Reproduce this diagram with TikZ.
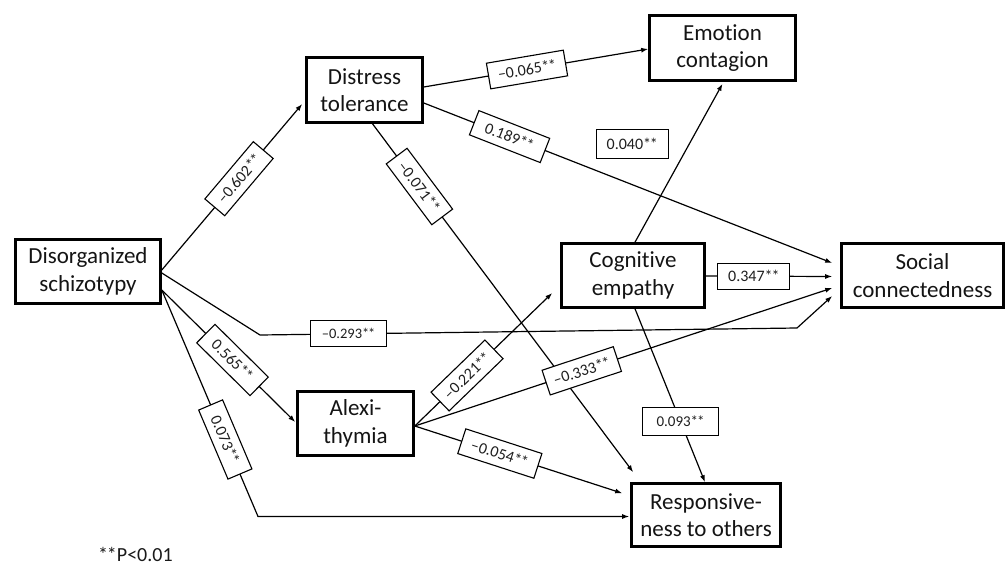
\documentclass[tikz,border=0pt]{standalone}
\usepackage{fontspec}
\setmainfont{Carlito}[Ligatures={TeX,NoCommon}]
\usetikzlibrary{arrows.meta,calc}
\newcommand\minussign{\textendash}
\newcommand\stars{*\kern-1.2pt*}
\begin{document}
\begin{tikzpicture}[x=1pt,y=-1pt,
  box/.style={draw, line width=2.6pt, inner sep=0pt, align=center,
    text=black!92, font=\fontsize{23}{27.5}\selectfont},
  lbl/.style={draw, line width=1.1pt, fill=white, inner sep=1pt,
    minimum width=75pt, minimum height=26pt, text=black!88,
    font=\fontsize{16}{18}\selectfont},
  link/.style={line width=1.2pt, -{Latex[length=7pt,width=5pt]}}]
\useasboundingbox (0,0) rectangle (1008,575);

% variables
\node[box, minimum width=145pt, minimum height=64pt] (DS) at (88,271.5) {Disorganized\\schizotypy};
\node[box, minimum width=116pt, minimum height=65pt] (DT) at (364.5,90) {Distress\\tolerance};
\node[box, minimum width=146pt, minimum height=65pt] (EC) at (722.5,48) {Emotion\\contagion};
\node[box, minimum width=143pt, minimum height=64pt] (CE) at (633,275.5) {Cognitive\\empathy};
\node[box, minimum width=162pt, minimum height=64pt] (SC) at (922.5,275.5) {Social\\connectedness};
\node[box, minimum width=116pt, minimum height=64pt] (AL) at (355.5,423.5) {Alexi-\\thymia};
\node[box, minimum width=149pt, minimum height=63pt] (RO) at (706,515) {Responsive-\\ness to others};

% bends of the two elbow paths
\coordinate (b1) at (260,335);
\coordinate (b2) at (797,328);
\coordinate (b3) at (258,516.5);

% paths from disorganized schizotypy
\draw[link] ($(DS.east)+(0,-1.5)$) -- node[lbl,sloped,pos=0.55] (l1) {\minussign0.602\stars} ($(DT.west)+(-3,14)$);
\draw[link] ($(DS.east)+(0,1.5)$) -- (b1) -- node[lbl,pos=0.165,minimum width=76pt,font=\fontsize{14.5}{16}\selectfont] (l2) {\minussign0.293\stars} (b2) -- ($(SC.west)+(-8,20.5)$);
\draw[link] ($(DS.east)+(0,18.5)$) -- node[lbl,sloped,pos=0.53] (l3) {0.565\stars} ($(AL.west)+(-1,-1.5)$);
\draw[link] ($(DS.east)+(0,18.5)$) -- node[lbl,sloped,pos=0.66] (l4) {0.073\stars} (b3) -- ($(RO.west)+(-1,1.5)$);

% paths from distress tolerance
\draw[link] ($(DT.east)+(0,-3)$) -- node[lbl,sloped,pos=0.46,minimum width=78pt] (l5) {\minussign0.065\stars} ($(EC.west)+(0,1)$);
\draw[link] ($(DT.east)+(0,13)$) -- node[lbl,sloped,pos=0.21,minimum width=76pt] (l6) {0.189\stars} ($(SC.west)+(-8,-12.5)$);
\draw[link] ($(DT.south)+(8,0)$) -- node[lbl,sloped,pos=0.18,minimum width=76pt] (l7) {\minussign0.071\stars} ($(RO.north west)+(3,-10)$);

% paths from alexithymia
\draw[link] ($(AL.east)+(0,2.5)$) -- node[lbl,sloped,pos=0.38] (l8) {\minussign0.221\stars} ($(CE.west)+(-8,17.5)$);
\draw[link] ($(AL.east)+(0,2.5)$) -- node[lbl,sloped,pos=0.40] (l9) {\minussign0.333\stars} ($(SC.west)+(-8,12.5)$);
\draw[link] ($(AL.east)+(0,2.5)$) -- node[lbl,sloped,pos=0.41,minimum width=80pt] (l10) {\minussign0.054\stars} ($(RO.north west)+(-8,11)$);

% paths from cognitive empathy
\draw[link] ($(CE.north)+(2,0)$) -- node[lbl,pos=0.62,xshift=-57pt,minimum width=72pt,minimum height=29pt] (l11) {0.040\stars} ($(EC.south)+(0,2)$);
\draw[link] ($(CE.east)+(0,0.5)$) -- node[lbl,pos=0.38,minimum width=72pt] (l12) {0.347\stars} ($(SC.west)+(-8,1)$);
\draw[link] ($(CE.south)+(2,0)$) -- node[lbl,pos=0.65,minimum width=76pt,minimum height=28pt,font=\fontsize{15}{17}\selectfont] (l13) {0.093\stars} ($(RO.north)+(-1,0)$);

% significance note
\node[anchor=base west, inner sep=0pt, text=black!90, font=\fontsize{20}{23}\selectfont] (note) at (98,561) {\stars P<0.01};
\end{tikzpicture}
\end{document}
